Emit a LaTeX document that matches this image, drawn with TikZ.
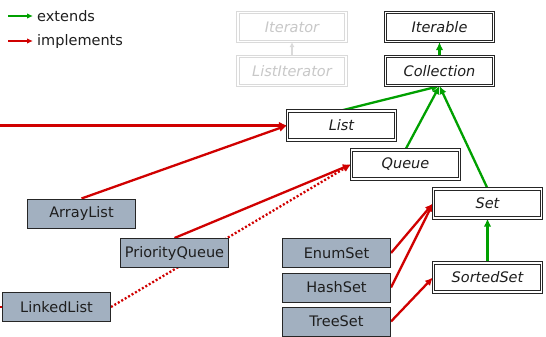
\documentclass[tikz,border=0pt]{standalone}
\usepackage{fontspec}
\setmainfont{DejaVu Sans}
\usetikzlibrary{arrows.meta}
\pgfdeclarelayer{bg}
\pgfsetlayers{bg,main}
\definecolor{extgreen}{RGB}{0,160,0}
\definecolor{impred}{RGB}{208,0,0}
\definecolor{classfill}{RGB}{162,176,192}
\definecolor{faintline}{RGB}{218,218,218}
\definecolor{fainttext}{RGB}{200,200,200}
\definecolor{inktext}{RGB}{30,30,30}

\begin{document}
\begin{tikzpicture}[x=1pt,y=-1pt,
  txt/.style={font=\fontsize{14.5}{16}\selectfont, text=inktext},
  iface/.style={txt, draw=black!85, line width=1.1pt, double=white,
    double distance=1.6pt, fill=white, minimum width=108pt,
    minimum height=29pt, inner sep=0pt,
    font=\fontsize{14.5}{16}\selectfont\itshape},
  faintbox/.style={iface, draw=faintline, text=fainttext},
  cls/.style={txt, draw=black!85, line width=1pt, fill=classfill,
    minimum width=108pt, minimum height=29pt, inner sep=0pt},
  ext/.style={draw=extgreen, line width=2.3pt,
    -{Latex[length=8pt,width=7.5pt]}},
  imp/.style={draw=impred, line width=2.3pt,
    -{Latex[length=8pt,width=7.5pt]}},
  legarrow/.style={line width=1.8pt, -{Latex[length=6pt,width=5.5pt]}},
  faintarrow/.style={draw=faintline, line width=1.6pt,
    -{Latex[length=5pt,width=5pt]}}]

\useasboundingbox (0,0) rectangle (546,337);

% legend
\coordinate (extfrom) at (8,16);
\coordinate (impfrom) at (8,41);
\node[txt, anchor=west, inner sep=4pt] (extlabel) at (33,16) {extends};
\node[txt, anchor=west, inner sep=4pt] (implabel) at (33,41) {implements};

% interfaces
\node[faintbox] (iterator) at (292,27) {Iterator};
\node[faintbox] (listiter) at (292,71) {ListIterator};
\node[iface] (iterable) at (439.5,27) {Iterable};
\node[iface] (collection) at (439.5,71) {Collection};
\node[iface] (list) at (341.5,125.5) {List};
\node[iface] (queue) at (405.5,164.5) {Queue};
\node[iface] (set) at (487.5,203.5) {Set};
\node[iface] (sortedset) at (487.5,277.5) {SortedSet};

% classes
\node[cls] (arraylist) at (81.5,213.5) {ArrayList};
\node[cls] (priorityqueue) at (174.5,253) {PriorityQueue};
\node[cls] (linkedlist) at (56.5,307) {LinkedList};
\node[cls] (enumset) at (336.5,253) {EnumSet};
\node[cls] (hashset) at (336.5,287.5) {HashSet};
\node[cls] (treeset) at (336.5,321.5) {TreeSet};

% connectors behind the boxes
\begin{pgfonlayer}{bg}
\clip (0,0) rectangle (546,337);
\draw[legarrow, extgreen] (extfrom) -- (extlabel.west);
\draw[legarrow, impred] (impfrom) -- (implabel.west);
\draw[faintarrow] (listiter.north) -- (iterator.south);
\draw[ext] (collection.north) -- (iterable.south);
\draw[ext] (list.north) -- (collection.south);
\draw[ext] (queue.north) -- (collection.south);
\draw[ext] (set.north) -- (collection.south);
\draw[ext] (sortedset.north) -- (set.south);
\draw[imp] (linkedlist.west) -- ++(-20,0) |- (list.west);
\draw[imp] (arraylist.north) -- (list.west);
\draw[imp] (priorityqueue.north) -- (queue.west);
\draw[imp, dash pattern=on 2pt off 2pt] (linkedlist.east) -- (queue.west);
\draw[imp] (enumset.east) -- (set.west);
\draw[imp] (hashset.east) -- (set.west);
\draw[imp] (treeset.east) -- (sortedset.west);
\end{pgfonlayer}
\end{tikzpicture}
\end{document}
